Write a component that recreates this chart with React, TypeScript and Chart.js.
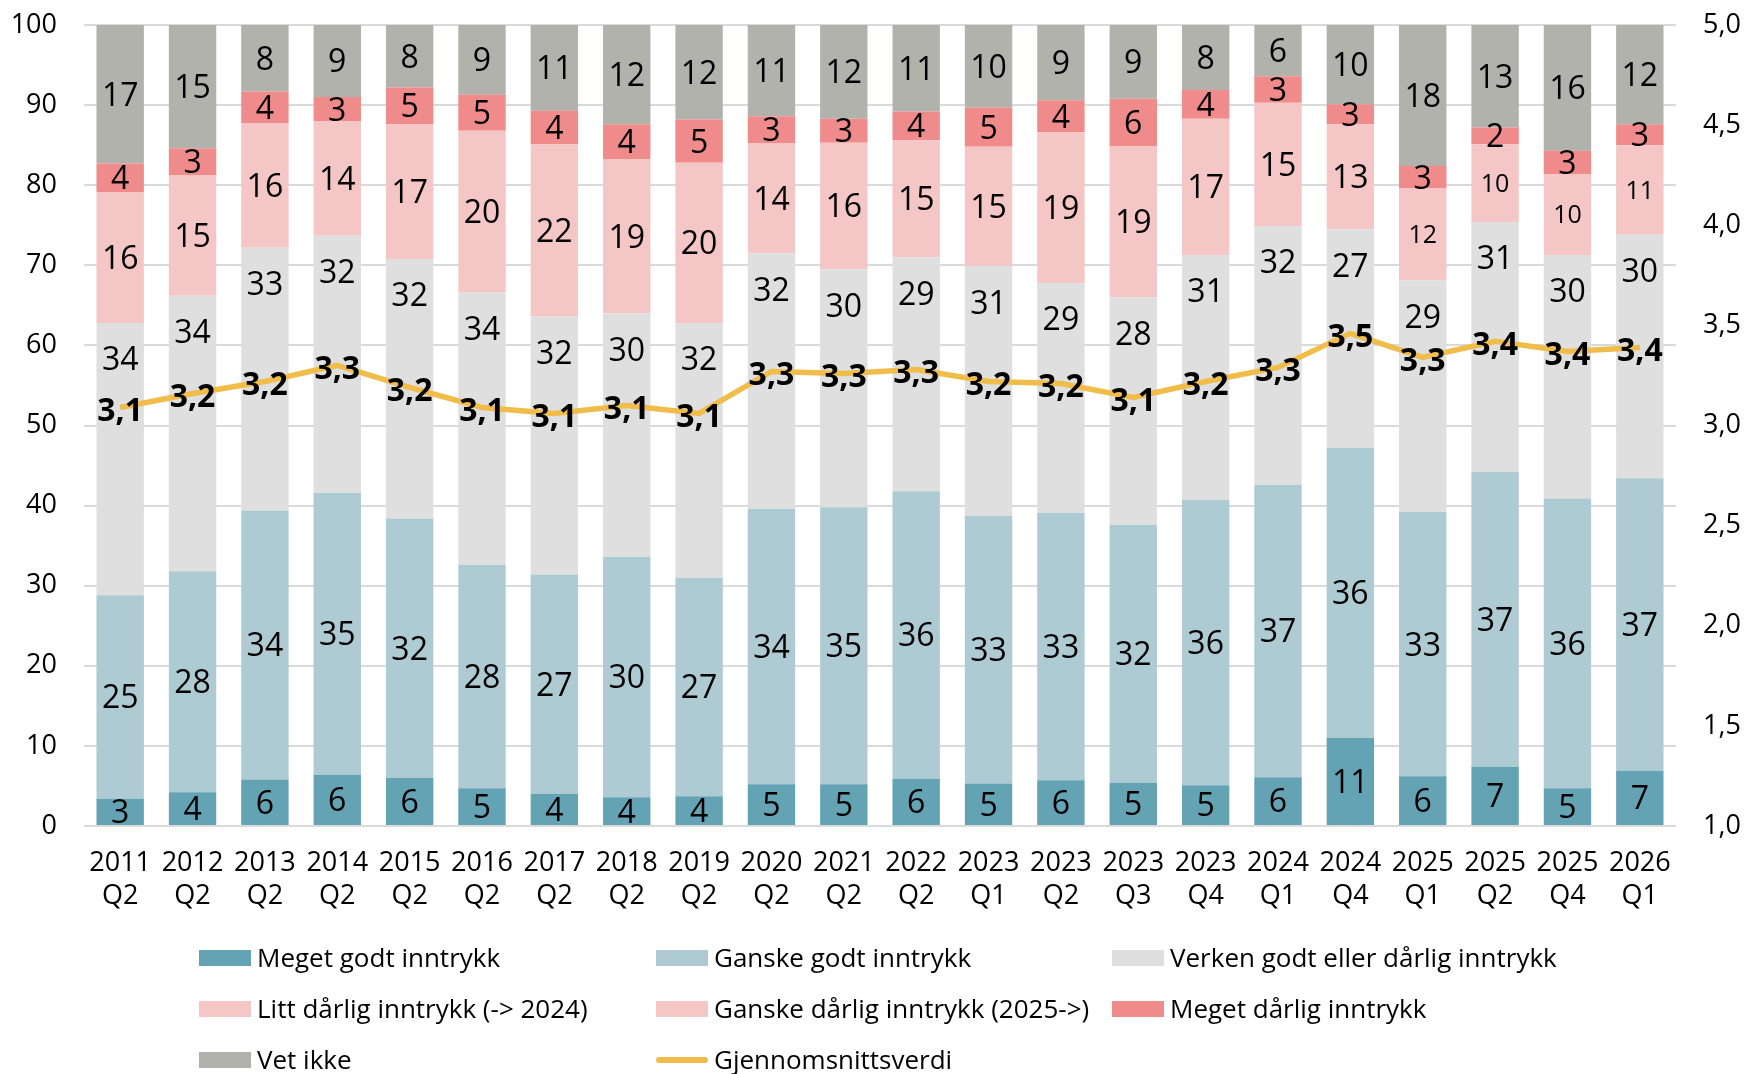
import React, { useEffect, useRef } from 'react';
import { Chart, registerables } from 'chart.js';

Chart.register(...registerables);

const FONT = "'Open Sans', 'Noto Sans', sans-serif";

const years = ['2011', '2012', '2013', '2014', '2015', '2016', '2017', '2018', '2019', '2020', '2021', '2022', '2023', '2023', '2023', '2023', '2024', '2024', '2025', '2025', '2025', '2026'];
const quarters = ['Q2', 'Q2', 'Q2', 'Q2', 'Q2', 'Q2', 'Q2', 'Q2', 'Q2', 'Q2', 'Q2', 'Q2', 'Q1', 'Q2', 'Q3', 'Q4', 'Q1', 'Q4', 'Q1', 'Q2', 'Q4', 'Q1'];

const megetGodt = [3.4, 4.2, 5.8, 6.4, 6.0, 4.7, 4.0, 3.6, 3.7, 5.2, 5.2, 5.9, 5.3, 5.7, 5.4, 5.1, 6.1, 11.0, 6.2, 7.4, 4.7, 6.9];
const ganskeGodt = [25.4, 27.6, 33.6, 35.2, 32.4, 27.9, 27.4, 30.0, 27.3, 34.4, 34.6, 35.9, 33.4, 33.4, 32.2, 35.6, 36.5, 36.2, 33.0, 36.8, 36.2, 36.5];
const verken = [34.0, 34.4, 32.8, 32.1, 32.4, 34.0, 32.2, 30.4, 31.8, 31.9, 29.7, 29.2, 31.2, 28.7, 28.4, 30.6, 32.3, 27.3, 28.9, 31.2, 30.4, 30.4];
const littDarlig = [16.3, 15.0, 15.5, 14.3, 16.8, 20.2, 21.5, 19.2, 20.0, 13.7, 15.8, 14.6, 14.9, 18.8, 18.9, 17.0, 15.4, 13.1, null, null, null, null];
const ganskeDarlig = [null, null, null, null, null, null, null, null, null, null, null, null, null, null, null, null, null, null, 11.5, 9.7, 10.1, 11.2];
const megetDarlig = [3.6, 3.4, 4.0, 3.0, 4.6, 4.5, 4.2, 4.4, 5.4, 3.4, 3.0, 3.6, 4.9, 4.0, 5.9, 3.6, 3.3, 2.5, 2.8, 2.1, 2.9, 2.6];
const vetIkke = [17.3, 15.4, 8.3, 9.0, 7.8, 8.7, 10.7, 12.4, 11.8, 11.4, 11.7, 10.8, 10.3, 9.4, 9.2, 8.1, 6.4, 9.9, 17.6, 12.8, 15.7, 12.4];
const snitt = [3.09, 3.16, 3.22, 3.30, 3.19, 3.09, 3.06, 3.10, 3.06, 3.27, 3.26, 3.28, 3.22, 3.21, 3.14, 3.22, 3.29, 3.46, 3.34, 3.42, 3.37, 3.39];

const seriesNames = [
  'Meget godt inntrykk',
  'Ganske godt inntrykk',
  'Verken godt eller dårlig inntrykk',
  'Litt dårlig inntrykk (-> 2024)',
  'Ganske dårlig inntrykk (2025->)',
  'Meget dårlig inntrykk',
  'Vet ikke',
  'Gjennomsnittsverdi',
];
const colors = ['#64A3B3', '#AECAD3', '#DFDFDF', '#F4C6C6', '#F4C6C6', '#EF8B8A', '#B2B2AD', '#F0BD4B'];

export default function App() {
  const ref = useRef<HTMLCanvasElement>(null);

  useEffect(() => {
    const canvas = ref.current!;

    const drawText = (ctx: CanvasRenderingContext2D, text: string, x: number, cy: number, size: number, bold: boolean) => {
      ctx.font = `${bold ? 'bold ' : ''}${size}px ${FONT}`;
      ctx.textAlign = 'center';
      ctx.textBaseline = 'alphabetic';
      ctx.fillStyle = '#000000';
      ctx.fillText(text, x, cy + size * 0.357);
    };

    const labelPlugin = {
      id: 'segLabels',
      afterDatasetsDraw(chart: any) {
        const ctx = chart.ctx as CanvasRenderingContext2D;
        ctx.save();
        chart.data.datasets.forEach((ds: any, i: number) => {
          const meta = chart.getDatasetMeta(i);
          const kind = ds.labelKind;
          meta.data.forEach((el: any, j: number) => {
            const v = ds.data[j];
            if (v == null) return;
            if (kind === 'line') {
              drawText(ctx, v.toFixed(1).replace('.', ','), el.x, el.y + 2, 32, true);
              return;
            }
            const txt = String(Math.round(v));
            if (kind === 'top') {
              drawText(ctx, txt, el.x, el.y + 36, 32, false);
            } else if (kind === 'small') {
              drawText(ctx, txt, el.x, (el.y + el.base) / 2, 25, false);
            } else {
              drawText(ctx, txt, el.x, (el.y + el.base) / 2, 32, false);
            }
          });
        });
        ctx.restore();
      },
    };

    const legendPlugin = {
      id: 'gridLegend',
      afterDraw(chart: any) {
        const ctx = chart.ctx as CanvasRenderingContext2D;
        const colX = [199, 656, 1112];
        const rowY = [958, 1009, 1060];
        ctx.save();
        seriesNames.forEach((name, k) => {
          const col = k % 3;
          const row = Math.floor(k / 3);
          const x = colX[col];
          const y = rowY[row];
          if (k === 7) {
            ctx.strokeStyle = colors[k];
            ctx.lineWidth = 6;
            ctx.lineCap = 'round';
            ctx.beginPath();
            ctx.moveTo(x + 3, y);
            ctx.lineTo(x + 49, y);
            ctx.stroke();
          } else {
            ctx.fillStyle = colors[k];
            ctx.fillRect(x, y - 8, 52, 16);
          }
          ctx.font = `26px ${FONT}`;
          ctx.textAlign = 'left';
          ctx.textBaseline = 'alphabetic';
          ctx.fillStyle = '#000000';
          ctx.fillText(name, x + 58, y + 26 * 0.357);
        });
        ctx.restore();
      },
    };

    const barValues = [megetGodt, ganskeGodt, verken, littDarlig, ganskeDarlig, megetDarlig, vetIkke];
    const kinds = ['center', 'center', 'top', 'center', 'small', 'center', 'center'];

    const datasets: any[] = barValues.map((vals, k) => ({
      type: 'bar',
      label: seriesNames[k],
      data: vals,
      backgroundColor: colors[k],
      borderWidth: 0,
      stack: 's',
      yAxisID: 'y',
      order: 1,
      labelKind: kinds[k],
      barPercentage: 0.655,
      categoryPercentage: 1,
    }));
    datasets.push({
      type: 'line',
      label: seriesNames[7],
      data: snitt,
      borderColor: colors[7],
      backgroundColor: colors[7],
      borderWidth: 5.5,
      pointRadius: 0,
      tension: 0,
      yAxisID: 'y1',
      order: 0,
      labelKind: 'line',
    });

    const chart = new Chart(canvas, {
      type: 'bar',
      data: {
        labels: years.map((y, i) => [y, quarters[i]]),
        datasets,
      },
      options: {
        responsive: false,
        animation: false,
        layout: { padding: { top: 25, bottom: 161, left: 0, right: 0 } },
        plugins: { legend: { display: false }, tooltip: { enabled: false } },
        scales: {
          x: {
            stacked: true,
            grid: { display: false, drawTicks: false },
            border: { display: false },
            ticks: {
              color: '#000000',
              font: { family: FONT, size: 27, lineHeight: 33 / 27 },
              padding: 21,
              autoSkip: false,
              maxRotation: 0,
              minRotation: 0,
            },
            afterFit: (s: any) => { s.height = 87; },
          },
          y: {
            stacked: true,
            position: 'left',
            min: 0,
            max: 100,
            grid: { color: '#DADADA', lineWidth: 2, drawTicks: true, tickLength: 27, tickColor: 'rgba(0,0,0,0)' },
            border: { display: false },
            ticks: {
              stepSize: 10,
              color: '#000000',
              padding: 0,
              font: { family: FONT, size: 27 },
            },
            afterFit: (s: any) => { s.width = 84; },
          },
          y1: {
            position: 'right',
            min: 1,
            max: 5,
            grid: { display: true, drawOnChartArea: false, color: 'rgba(0,0,0,0)', drawTicks: true, tickLength: 27, tickColor: 'rgba(0,0,0,0)' },
            border: { display: false },
            ticks: {
              stepSize: 0.5,
              color: '#000000',
              padding: 0,
              font: { family: FONT, size: 27 },
              callback: (v: any) => Number(v).toFixed(1).replace('.', ','),
            },
            afterFit: (s: any) => { s.width = 68; },
          },
        },
      } as any,
      plugins: [labelPlugin, legendPlugin],
    });

    return () => chart.destroy();
  }, []);

  return (
    <div style={{ position: 'absolute', left: 0, top: 0, width: 1744, height: 1074, background: '#ffffff' }}>
      <canvas ref={ref} width={1744} height={1074} style={{ display: 'block' }} />
    </div>
  );
}
